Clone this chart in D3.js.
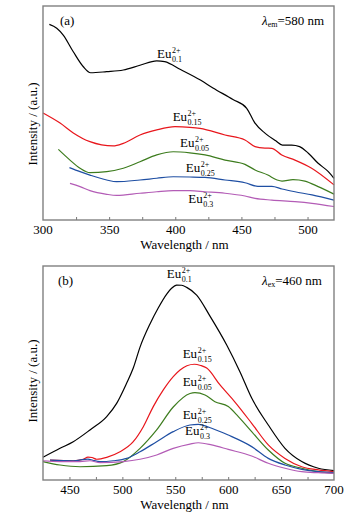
<!DOCTYPE html>
<html><head><meta charset="utf-8">
<script src="https://cdn.jsdelivr.net/npm/d3@7"></script>
<style>
body{margin:0;background:#fff}
svg{display:block}
text{font-family:"Liberation Serif","Times New Roman",serif;fill:#000}
</style>
</head><body>
<svg id="chart" width="355" height="523"></svg>
<script>
// ---------- DATA ----------
const seriesNames = ["0.1","0.15","0.05","0.25","0.3"];
const seriesColors = ["#000000","#e8161c","#3d7c1e","#1f4fa3","#b35cb6"];

// Panel (a): excitation spectra, lambda_em = 580 nm
const aTicks = [300,350,400,450,500];
const a01_wl = [304.8,310.4,315.3,322.9,330.5,336,348,360.7,373.3,386,392,404,419,428.5,443.6,454,460,468,476,481,488,494,500.6,508,515.7,520];
const a01_I  = [91.4,89.6,86.4,78.6,71.6,68.8,69.3,70.1,72.3,74.4,74.0,70.3,65.4,61.7,56.3,52.2,45.5,40.5,37.0,35.0,35.0,34.3,31.2,26.5,22.6,19.5];
const a015_wl = [300,312.9,322.9,335.5,353.1,360.7,373.3,386,399.8,411.1,418.7,437.6,452.7,460.3,467.8,472.9,480.5,490.5,503.1,520];
const a015_I  = [50.0,45.3,40.7,36.6,34.6,35.8,39.7,42.1,43.6,43.3,42.8,39.7,37.4,34.3,33.6,33.5,30.4,28.0,24.2,16.4];
const a005_wl = [311.6,320.4,328,335.5,348.2,360.7,373.3,386,398.5,411,422.5,437.6,452.7,460.3,470,477,480.7,489,498,508,520];
const a005_I  = [33.0,28.0,24.2,22.1,22.6,24.2,27.2,30.4,31.9,31.4,30.4,28.0,26.0,23.4,21.0,18.7,18.2,18.9,18.2,15.6,12.1];
const a025_wl = [320,328,335.5,348.2,355.7,373.3,386,398.5,411,422.5,437.6,452.7,462.5,473,480.7,490.5,503.4,520];
const a025_I  = [24.5,22.6,21.0,18.7,17.9,18.7,19.5,20.2,20.1,19.9,18.7,17.4,15.7,15.7,14.5,13.2,11.7,9.3];
const a03_wl = [320.4,328,335.5,348.2,355.7,373.3,386,398.5,411,422.5,437.6,452.7,460.3,473,490.5,503.4,520];
const a03_I  = [17.1,15.6,13.7,12.0,11.5,12.5,13.2,13.7,13.7,13.2,12.5,11.2,10.1,9.3,8.6,7.8,6.3];

// Panel (b): emission spectra, lambda_ex = 460 nm
const bTicks = [450,500,550,600,650,700];
const b01_wl = [425,441.1,453.6,469.4,485.2,494.6,504.1,510.3,516.7,526.1,534,541.9,546.5,551.3,556,560.8,570.2,582.8,598.6,611.2,622.2,637.9,653.7,669.5,685.2,700];
const b01_I  = [10.6,14.8,17.9,23.4,29.6,35.8,45.3,52.3,62.1,72.9,80.5,86.9,89.6,91.1,91.0,90.0,86.4,76.6,63.1,50.5,38.3,25.7,14.8,8.6,5.5,4.4];
const b015_wl = [431.6,453.6,463.1,467.5,471.3,475.7,485.2,497.8,510.3,519.8,529.2,538.7,548.1,554.5,561,568,574,579.7,592.3,606.4,622.2,637.9,653.7,669.5,685.2,700];
const b015_I  = [9.3,9.0,9.7,10.7,10.5,9.7,10.6,13.2,17.9,24.9,34.3,42.1,48.3,51.4,53.4,54.1,53.5,52.3,44.4,36.4,26.5,16.4,10.1,6.2,4.7,3.9];
const b005_wl = [425,441.1,460,485.2,500.9,516.7,532.4,548.1,563.9,568.6,578.1,587.5,600.1,609.6,622.2,637.9,653.7,669.5,685.2,700];
const b005_I  = [8.6,7.0,6.2,6.7,8.6,14.8,23.4,34.1,40.4,40.8,39.7,36.6,34.3,29.6,22.6,14.0,7.8,5.5,3.9,3.1];
const b025_wl = [431.6,453.6,467.5,472.2,478.9,491.4,504.1,516.7,532.4,548.1,563.9,571.8,584.4,600.1,622.2,637.9,653.7,669.5,685.2,700];
const b025_I  = [9.3,9.0,9.8,9.2,8.6,9.0,10.1,13.2,17.9,22.6,25.7,26.0,24.2,21.0,15.6,10.1,7.0,5.0,3.9,3.4];
const b03_wl = [425,441.1,460,469.4,478.9,500.9,516.7,532.4,548.1,563.9,571.8,584.4,600.1,622.2,637.9,653.7,669.5,685.2,700];
const b03_I  = [9.0,8.6,8.6,9.0,8.1,8.6,9.7,11.7,14.8,16.8,17.4,16.4,14.3,11.2,7.8,5.5,3.9,3.4,3.1];

// label anchors (data coordinates)
const aLabelWl = [386.2,398,403.6,407.9,409.9];
const aLabelI  = [75.7,46.4,34.0,22.3,7.8];
const bLabelWl = [541.9,557,557,557,559.2];
const bLabelI  = [94.3,56.9,43.9,28.6,20.8];

// ---------- DRAW ----------
const svg = d3.select("#chart");
const L = 43, R = 334;

function panel(cfg){
  const g = svg.append("g");
  const x = d3.scaleLinear().domain(cfg.xDomain).range([L,R]);
  const y = d3.scaleLinear().domain([0,100]).range([cfg.bottom,cfg.top]);

  const minor = d3.range(cfg.xDomain[0], cfg.xDomain[1]+0.1, 25).filter(v=>v>cfg.xDomain[0] && v<cfg.xDomain[1]);
  const ax = d3.axisBottom(x).tickValues(minor).tickSize(-3).tickPadding(5)
      .tickFormat(d => cfg.ticks.includes(d) ? d3.format("d")(d) : "");
  const axg = g.append("g").attr("transform",`translate(0,${cfg.bottom})`).call(ax);
  axg.select(".domain").remove();
  axg.selectAll(".tick line").attr("stroke","#777").attr("stroke-width",1);
  axg.selectAll(".tick text").attr("font-size",13).attr("font-family","Liberation Serif").attr("fill","#000");
  // edge labels
  cfg.ticks.filter(t=>!minor.includes(t)).forEach(t=>{
    g.append("text").attr("x",x(t)).attr("y",cfg.bottom+5).attr("dy","0.71em")
     .attr("text-anchor","middle").attr("font-size",13).text(t);
  });

  const line = d3.line().x(d=>x(d[0])).y(d=>y(d[1])).curve(d3.curveMonotoneX);
  cfg.series.forEach((s,i)=>{
    g.append("path").datum(d3.zip(s[0],s[1])).attr("d",line)
     .attr("fill","none").attr("stroke",seriesColors[i]).attr("stroke-width",1.2);
  });

  g.append("rect").attr("x",L).attr("y",cfg.top).attr("width",R-L).attr("height",cfg.bottom-cfg.top)
   .attr("fill","none").attr("stroke","#808080").attr("stroke-width",1.4);

  // series labels
  seriesNames.forEach((n,i)=>{
    const lx = x(cfg.labWl[i]), ly = y(cfg.labI[i]);
    const t = g.append("text").attr("x",lx).attr("y",ly).attr("font-size",13).text("Eu");
    const w = t.node().getComputedTextLength();
    g.append("text").attr("x",lx+w+0.5).attr("y",ly-5).attr("font-size",8).text("2+");
    g.append("text").attr("x",lx+w+0.5).attr("y",ly+4).attr("font-size",8).text(n);
  });

  g.append("text").attr("x",cfg.tagX).attr("y",cfg.top+19).attr("font-size",13).text(cfg.tag);
  const lt = g.append("text").attr("x",262).attr("y",cfg.top+19).attr("font-size",13);
  lt.append("tspan").attr("font-style","italic").text("λ");
  lt.append("tspan").attr("font-size",8).attr("dy",2).text(cfg.sub);
  lt.append("tspan").attr("dy",-2).text(cfg.eq);

  g.append("text").attr("x",(L+R)/2-4).attr("y",cfg.bottom+29).attr("text-anchor","middle")
   .attr("font-size",13).text("Wavelength / nm");
  g.append("text").attr("transform",`translate(37,${cfg.ylabY}) rotate(-90)`).attr("text-anchor","middle")
   .attr("font-size",13).text("Intensity / (a.u.)");
}

panel({xDomain:[300,520], ticks:aTicks, top:6, bottom:220,
  series:[[a01_wl,a01_I],[a015_wl,a015_I],[a005_wl,a005_I],[a025_wl,a025_I],[a03_wl,a03_I]],
  labWl:aLabelWl, labI:aLabelI, tag:"(a)", tagX:60, sub:"em", eq:"=580 nm", ylabY:124});
panel({xDomain:[425,700], ticks:bTicks, top:266, bottom:480,
  series:[[b01_wl,b01_I],[b015_wl,b015_I],[b005_wl,b005_I],[b025_wl,b025_I],[b03_wl,b03_I]],
  labWl:bLabelWl, labI:bLabelI, tag:"(b)", tagX:58, sub:"ex", eq:"=460 nm", ylabY:381});
</script>
</body></html>
